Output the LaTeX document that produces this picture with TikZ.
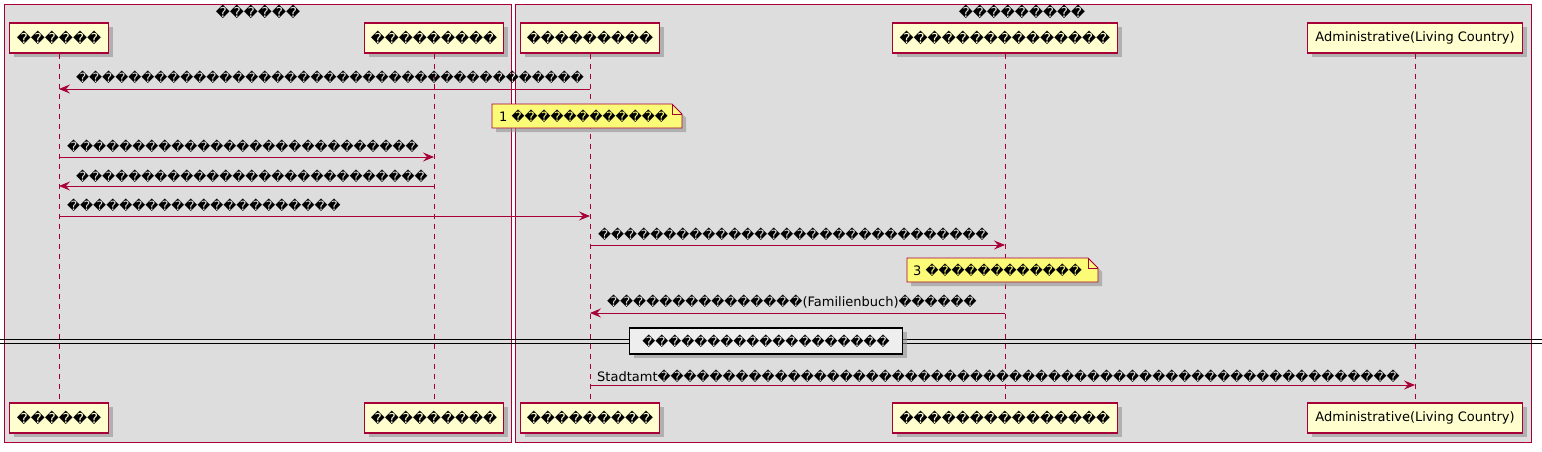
\documentclass[tikz,border=0pt]{standalone}
\usepackage{fontspec}
\setmainfont{DejaVu Sans}
\usetikzlibrary{arrows.meta,shadows}
\newcommand\qc{\char"FFFD\relax}
\ExplSyntaxOn
\cs_new:Npn \qq #1 {\prg_replicate:nn {#1} {\qc}}
\ExplSyntaxOff
\newcommand\qp[1]{{\fontsize{13.7}{15}\selectfont\qq{#1}}}
\newcommand\qm[1]{{\fontsize{12.7}{15}\selectfont\qq{#1}}}
\definecolor{bord}{HTML}{A80036}
\definecolor{partfill}{HTML}{FEFECE}
\definecolor{notefill}{HTML}{FBFB77}
\definecolor{boxfill}{HTML}{DDDDDD}
\definecolor{divfill}{HTML}{EEEEEE}
\newcommand\pfont{\fontsize{13}{15}\selectfont}
\newcommand\mfont{\fontsize{13}{15}\selectfont}
\tikzset{
  part/.style={draw=bord, fill=partfill, line width=1.1pt, minimum height=30pt, inner sep=0pt, font=\pfont,
    drop shadow={shadow xshift=4pt, shadow yshift=-4pt, fill=black!45, opacity=.55}},
  grp/.style={draw=bord, fill=boxfill, line width=0.9pt},
  life/.style={draw=bord, line width=0.8pt, dash pattern=on 5pt off 5pt},
  msg/.style={draw=bord, line width=0.9pt, -{Stealth[length=11pt,width=9pt,inset=4pt]}},
  lbl/.style={font=\mfont, inner sep=0pt, anchor=west},
  notebox/.style={draw=bord, fill=notefill, line width=0.8pt},
  divbox/.style={draw=black, fill=divfill, line width=1.6pt, minimum width=273pt, minimum height=26pt, inner sep=0pt, font=\mfont,
    drop shadow={shadow xshift=4pt, shadow yshift=-4pt, fill=black!45, opacity=.55}},
}
\begin{document}
\begin{tikzpicture}[x=1pt,y=-1pt]
\useasboundingbox (0,0) rectangle (1542,452);
% groups
\draw[grp] (4,4) rectangle (511,442);
\draw[grp] (515,4) rectangle (1531,442);
\node[font=\pfont, inner sep=0pt] (g1) at (258,12) {\qp{6}};
\node[font=\pfont, inner sep=0pt] (g2) at (1022,12) {\qp{9}};
% participants
\node[part, minimum width=99pt] (p1) at (59,38) {\qp{6}};
\node[part, minimum width=139pt] (p2) at (434,38) {\qp{9}};
\node[part, minimum width=139pt] (p3) at (590,38) {\qp{9}};
\node[part, minimum width=225pt] (p4) at (1005,38) {\qp{15}};
\node[part, minimum width=215pt] (p5) at (1415,38) {Administrative(Living Country)};
\node[part, minimum width=99pt] (b1) at (59,418) {\qp{6}};
\node[part, minimum width=139pt] (b2) at (434,418) {\qp{9}};
\node[part, minimum width=139pt] (b3) at (590,418) {\qp{9}};
\node[part, minimum width=225pt] (b4) at (1005,418) {\qp{15}};
\node[part, minimum width=215pt] (b5) at (1415,418) {Administrative(Living Country)};
% lifelines
\foreach \i in {1,...,5} {\draw[life] (p\i.south) -- (b\i.north);}
% rows
\coordinate (r1) at (0,89);
\coordinate (r2) at (0,157);
\coordinate (r3) at (0,186);
\coordinate (r4) at (0,216);
\coordinate (r5) at (0,245);
\coordinate (r6) at (0,313);
\coordinate (r7) at (0,385);
% messages
\draw[msg] (p3 |- r1) -- (p1 |- r1);
\node[lbl] (t1) at (76,77) {\qm{39}};
\draw[msg] (p1 |- r2) -- (p2 |- r2);
\node[lbl] (t2) at (67,146) {\qm{27}};
\draw[msg] (p2 |- r3) -- (p1 |- r3);
\node[lbl] (t3) at (76,176) {\qm{27}};
\draw[msg] (p1 |- r4) -- (p3 |- r4);
\node[lbl] (t4) at (67,205) {\qm{21}};
\draw[msg] (p3 |- r5) -- (p4 |- r5);
\node[lbl] (t5) at (598,234) {\qm{30}};
\draw[msg] (p4 |- r6) -- (p3 |- r6);
\node[lbl] (t6) at (607,302) {\qm{15}(Familienbuch)\qm{6}};
% notes
\fill[black!45, opacity=.55] (496,108) -- (676,108) -- (686,118) -- (686,132) -- (496,132) -- cycle;
\draw[notebox] (492,104) -- (672,104) -- (682,114) -- (682,128) -- (492,128) -- cycle;
\draw[bord, line width=0.8pt] (672,104) -- (672,114) -- (682,114);
\node[lbl] (n1) at (499,116) {1 \qm{12}};
\fill[black!45, opacity=.55] (911,262) -- (1092,262) -- (1102,272) -- (1102,286) -- (911,286) -- cycle;
\draw[notebox] (907,258) -- (1088,258) -- (1098,268) -- (1098,282) -- (907,282) -- cycle;
\draw[bord, line width=0.8pt] (1088,258) -- (1088,268) -- (1098,268);
\node[lbl] (n3) at (913,270) {3 \qm{12}};
% divider
\coordinate (dl1) at (0,339);
\coordinate (dr1) at (1542,339);
\coordinate (dl2) at (0,343);
\coordinate (dr2) at (1542,343);
\draw[black, line width=0.9pt] (dl1) -- (dr1);
\draw[black, line width=0.9pt] (dl2) -- (dr2);
\node[divbox] (dv) at (766,341) {\qm{19}};
% last message
\draw[msg] (p3 |- r7) -- (p5 |- r7);
\node[lbl] (t7) at (597,376) {Stadtamt\qm{57}};
\end{tikzpicture}
\end{document}
